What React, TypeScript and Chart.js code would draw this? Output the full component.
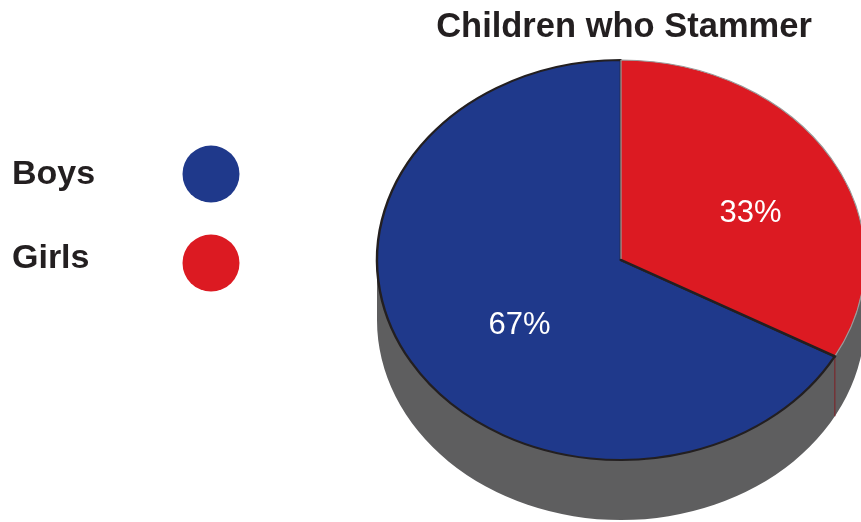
import React, { useEffect, useRef } from 'react';
import { Chart, registerables } from 'chart.js';

Chart.register(...registerables);

const TITLE = 'Children who Stammer';
const categories = ['Boys', 'Girls'];
const percentages = [67, 33];
const sliceColors = ['#1f398b', '#dc1a22'];
const sliceBorderColors = ['#231f20', '#9a9a9a'];
const sliceBorderWidths = [2, 1];
const SIDE_COLOR = '#5e5e5f';
const EDGE_COLOR = '#7a2a2e';
const TEXT_COLOR = '#231f20';

const W = 861;
const H = 522;
const FONT = '"Liberation Sans", Arial, Helvetica, sans-serif';
const SX = 1.22; // horizontal stretch turning the pie into an ellipse
const DEPTH = 60; // thickness of the 3D side
const LABEL_R = 0.55;
const LABEL_SHIFT_X = 14;
const LABEL_SHIFT_Y = 9;

function getPie(chart: any) {
  const meta = chart.getDatasetMeta(0);
  const arc: any = meta.data[0];
  return { cx: arc.x as number, cy: arc.y as number, r: arc.outerRadius as number, arcs: meta.data as any[] };
}

const pie3dPlugin = {
  id: 'pie3d',
  beforeDatasetsDraw(chart: any) {
    const ctx: CanvasRenderingContext2D = chart.ctx;
    const { cx, cy, r, arcs } = getPie(chart);
    ctx.save();
    ctx.translate(cx, cy);
    ctx.scale(SX, 1);
    ctx.translate(-cx, -cy);
    // side wall
    ctx.fillStyle = SIDE_COLOR;
    ctx.beginPath();
    ctx.moveTo(cx + r, cy);
    ctx.lineTo(cx + r, cy + DEPTH);
    ctx.arc(cx, cy + DEPTH, r, 0, Math.PI, false);
    ctx.lineTo(cx - r, cy);
    ctx.arc(cx, cy, r, Math.PI, 0, true);
    ctx.closePath();
    ctx.fill();
    // vertical edge where slices meet on the visible side
    const a = arcs[0].startAngle;
    const ex = cx + Math.cos(a) * r;
    const ey = cy + Math.sin(a) * r;
    if (Math.sin(a) > 0) {
      ctx.strokeStyle = EDGE_COLOR;
      ctx.lineWidth = 1;
      ctx.beginPath();
      ctx.moveTo(ex, ey);
      ctx.lineTo(ex, ey + DEPTH);
      ctx.stroke();
    }
    // keep transform active while the slices are drawn
  },
  afterDatasetsDraw(chart: any) {
    const ctx: CanvasRenderingContext2D = chart.ctx;
    const { cx, cy, r, arcs } = getPie(chart);
    // dark radial edge of the Boys slice, on top of the Girls slice
    const a = arcs[0].startAngle;
    ctx.strokeStyle = sliceBorderColors[0];
    ctx.lineWidth = 2.5;
    ctx.lineCap = 'round';
    ctx.beginPath();
    ctx.moveTo(cx, cy);
    ctx.lineTo(cx + Math.cos(a) * r, cy + Math.sin(a) * r);
    ctx.stroke();
    ctx.restore();

    ctx.save();
    ctx.fillStyle = '#ffffff';
    ctx.font = `31px ${FONT}`;
    ctx.textAlign = 'center';
    ctx.textBaseline = 'middle';
    arcs.forEach((arc: any, i: number) => {
      const mid = (arc.startAngle + arc.endAngle) / 2;
      const x = cx + Math.cos(mid) * r * LABEL_R * SX + LABEL_SHIFT_X;
      const y = cy + Math.sin(mid) * r * LABEL_R + LABEL_SHIFT_Y;
      ctx.fillText(`${percentages[i]}%`, x, y);
    });
    ctx.restore();
  },
  afterDraw(chart: any) {
    const ctx: CanvasRenderingContext2D = chart.ctx;
    ctx.save();
    ctx.fillStyle = TEXT_COLOR;
    ctx.font = `bold 34.5px ${FONT}`;
    ctx.textBaseline = 'alphabetic';
    ctx.textAlign = 'center';
    ctx.fillText(TITLE, 624, 37);
    ctx.font = `bold 34px ${FONT}`;
    ctx.textAlign = 'left';
    const legendY = [184, 268];
    const dotY = [174, 263];
    categories.forEach((c, i) => {
      ctx.fillStyle = TEXT_COLOR;
      ctx.fillText(c, 12, legendY[i]);
      ctx.fillStyle = sliceColors[i];
      ctx.beginPath();
      ctx.arc(211, dotY[i], 28.5, 0, Math.PI * 2);
      ctx.fill();
    });
    ctx.restore();
  },
};

export default function App() {
  const ref = useRef<HTMLCanvasElement>(null);
  useEffect(() => {
    const canvas = ref.current;
    if (!canvas) return;
    const rotation = (percentages[1] / percentages.reduce((s, v) => s + v, 0)) * 360;
    const chart = new Chart(canvas, {
      type: 'pie',
      data: {
        labels: categories,
        datasets: [
          {
            data: percentages,
            backgroundColor: sliceColors,
            borderColor: sliceBorderColors,
            borderWidth: sliceBorderWidths,
            clip: false as any,
          } as any,
        ],
      },
      options: {
        responsive: false,
        animation: false,
        devicePixelRatio: 1,
        events: [],
        rotation,
        layout: { padding: { left: 420, right: 39, top: 59, bottom: 61 } },
        plugins: {
          legend: { display: false },
          tooltip: { enabled: false },
          title: { display: false },
        },
      },
      plugins: [pie3dPlugin],
    });
    return () => chart.destroy();
  }, []);
  return (
    <div style={{ position: 'fixed', left: 0, top: 0, width: W, height: H, background: '#ffffff' }}>
      <canvas ref={ref} width={W} height={H} style={{ display: 'block', width: W, height: H }} />
    </div>
  );
}
